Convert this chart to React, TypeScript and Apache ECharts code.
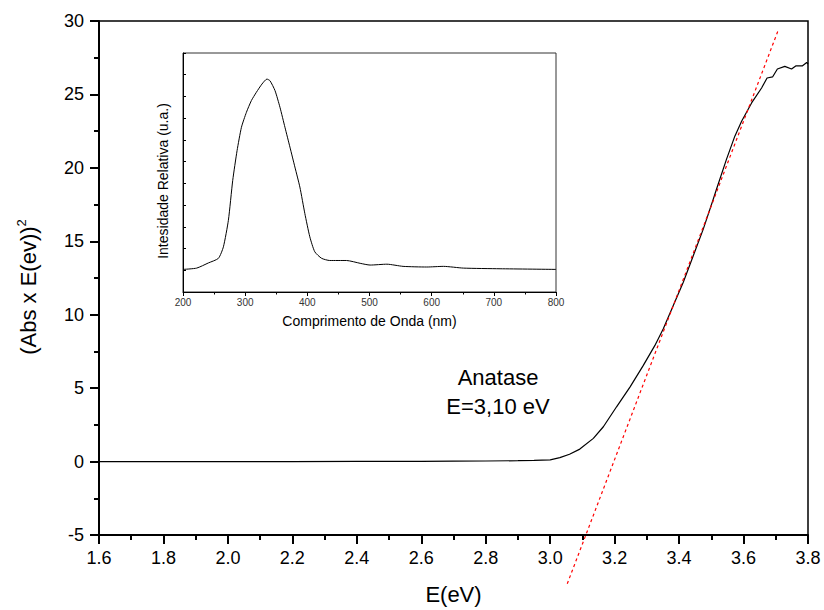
import React, { useEffect, useRef } from "react";
import * as echarts from "echarts";

// Main curve: (Abs x E)^2 vs E (eV)
const energyEv = [1.6, 1.8, 2.0, 2.2, 2.4, 2.6, 2.7, 2.8, 2.9, 2.95, 3.0, 3.03, 3.06, 3.092, 3.134, 3.165, 3.206, 3.248, 3.289, 3.325, 3.351, 3.382, 3.413, 3.444, 3.475, 3.506, 3.516, 3.547, 3.573, 3.594, 3.625, 3.656, 3.673, 3.69, 3.705, 3.728, 3.749, 3.763, 3.783, 3.796, 3.8];
const absE2 = [0, 0, 0, 0, 0.01, 0.02, 0.03, 0.04, 0.06, 0.08, 0.12, 0.27, 0.5, 0.85, 1.58, 2.37, 3.73, 5.09, 6.55, 7.91, 9.04, 10.62, 12.21, 14.02, 15.83, 17.86, 18.54, 20.58, 22.16, 23.17, 24.42, 25.44, 26.12, 26.19, 26.73, 26.91, 26.73, 26.95, 26.95, 27.18, 27.07];

// Linear fit (tangent) line
const fitEv = [3.053, 3.706];
const fitVal = [-8.32, 29.28];

// Inset: relative intensity vs wavelength (nm)
const waveNm = [200, 222, 241, 257, 265, 273, 280, 287, 294, 302, 310, 318, 327, 335, 340, 348, 356, 364, 372, 380, 388, 396, 404, 412, 423, 436, 463, 485, 501, 528, 554, 592, 619, 651, 710, 800];
const intensity = [1.04, 1.1, 1.34, 1.55, 2.08, 3.3, 5.14, 6.51, 7.58, 8.27, 8.81, 9.19, 9.57, 9.8, 9.72, 9.27, 8.5, 7.58, 6.67, 5.75, 4.83, 3.61, 2.54, 1.85, 1.55, 1.45, 1.45, 1.32, 1.24, 1.28, 1.18, 1.15, 1.18, 1.1, 1.07, 1.04];

const mainTicksX = { min: 1.6, max: 3.8, interval: 0.2 };
const mainTicksY = { min: -5, max: 30, interval: 5 };
const insetTicksX = { min: 200, max: 800, interval: 100 };

const FONT = "'Liberation Sans', Arial, sans-serif";

export default function App() {
  const ref = useRef<HTMLDivElement>(null);
  useEffect(() => {
    if (!ref.current) return;
    const chart = echarts.init(ref.current, undefined, { renderer: "svg" });
    const option: any = {
      animation: false,
      backgroundColor: "#fff",
      textStyle: { fontFamily: FONT },
      grid: [
        { left: 99, right: 16, top: 21, bottom: 73, show: true, borderColor: "#000", borderWidth: 1.5, backgroundColor: "transparent" },
        { left: 183, right: 268, top: 53, bottom: 318, show: true, borderColor: "#333", borderWidth: 1, backgroundColor: "transparent" },
      ],
      xAxis: [
        {
          gridIndex: 0,
          type: "value",
          ...mainTicksX,
          axisLine: { show: true, onZero: false, lineStyle: { color: "#000", width: 2 } },
          axisTick: { show: true, inside: false, length: 9, lineStyle: { color: "#000", width: 2 } },
          minorTick: { show: true, splitNumber: 2, length: 5, lineStyle: { color: "#000", width: 2 } },
          splitLine: { show: false },
          minorSplitLine: { show: false },
          axisLabel: { formatter: (v: number) => v.toFixed(1), fontSize: 18, color: "#000", margin: 14, fontFamily: FONT },
          name: "E(eV)",
          nameLocation: "middle",
          nameGap: 48,
          nameTextStyle: { fontSize: 22, color: "#000", fontFamily: FONT },
        },
        {
          gridIndex: 1,
          type: "value",
          ...insetTicksX,
          axisLine: { show: true, onZero: false, lineStyle: { color: "#000", width: 1 } },
          axisTick: { show: true, inside: false, length: 4, lineStyle: { color: "#000", width: 1 } },
          minorTick: { show: true, splitNumber: 2, length: 2.5, lineStyle: { color: "#000", width: 1 } },
          splitLine: { show: false },
          axisLabel: { fontSize: 10, color: "#333", margin: 5, fontFamily: FONT },
          name: "Comprimento de Onda (nm)",
          nameLocation: "middle",
          nameGap: 22,
          nameTextStyle: { fontSize: 14, color: "#000", fontFamily: FONT },
        },
      ],
      yAxis: [
        {
          gridIndex: 0,
          type: "value",
          ...mainTicksY,
          axisLine: { show: true, onZero: false, lineStyle: { color: "#000", width: 2 } },
          axisTick: { show: true, inside: false, length: 9, lineStyle: { color: "#000", width: 2 } },
          minorTick: { show: true, splitNumber: 2, length: 5, lineStyle: { color: "#000", width: 2 } },
          splitLine: { show: false },
          axisLabel: { fontSize: 18, color: "#000", margin: 15, fontFamily: FONT },
        },
        {
          gridIndex: 1,
          type: "value",
          min: 0,
          max: 11,
          interval: 1,
          axisLine: { show: true, onZero: false, lineStyle: { color: "#000", width: 1 } },
          axisTick: { show: true, inside: true, length: 3, lineStyle: { color: "#000", width: 1 } },
          splitLine: { show: false },
          axisLabel: { show: false },
        },
      ],
      series: [
        {
          type: "line",
          xAxisIndex: 0,
          yAxisIndex: 0,
          data: energyEv.map((e, i) => [e, absE2[i]]),
          showSymbol: false,
          lineStyle: { color: "#000", width: 1.2 },
        },
        {
          type: "line",
          xAxisIndex: 0,
          yAxisIndex: 0,
          data: fitEv.map((e, i) => [e, fitVal[i]]),
          showSymbol: false,
          clip: false,
          lineStyle: { color: "#ff0000", width: 1.2, type: [3, 3] },
        },
        {
          type: "line",
          xAxisIndex: 1,
          yAxisIndex: 1,
          data: waveNm.map((w, i) => [w, intensity[i]]),
          showSymbol: false,
          smooth: 0.2,
          lineStyle: { color: "#000", width: 1 },
        },
      ],
      graphic: [
        {
          type: "text",
          x: 28,
          y: 287,
          rotation: Math.PI / 2,
          style: {
            text: "{a|(Abs x E(ev))}{sup|2}",
            textAlign: "center",
            align: "center",
            textVerticalAlign: "middle",
            verticalAlign: "middle",
            rich: {
              a: { fontSize: 22, fontFamily: FONT, fill: "#000", lineHeight: 26 },
              sup: { fontSize: 13, fontFamily: FONT, fill: "#000", lineHeight: 13, verticalAlign: "top" },
            },
          },
        },
        {
          type: "text",
          x: 163,
          y: 181,
          rotation: Math.PI / 2,
          style: {
            text: "Intesidade Relativa (u.a.)",
            font: `14px ${FONT}`,
            fill: "#000",
            textAlign: "center",
            align: "center",
            textVerticalAlign: "middle",
            verticalAlign: "middle",
          },
        },
        {
          type: "text",
          x: 498,
          y: 377,
          style: {
            text: "Anatase",
            font: `22px ${FONT}`,
            fill: "#000",
            textAlign: "center",
            align: "center",
            textVerticalAlign: "middle",
            verticalAlign: "middle",
          },
        },
        {
          type: "text",
          x: 498,
          y: 406,
          style: {
            text: "E=3,10 eV",
            font: `22px ${FONT}`,
            fill: "#000",
            textAlign: "center",
            align: "center",
            textVerticalAlign: "middle",
            verticalAlign: "middle",
          },
        },
      ],
    };
    chart.setOption(option);
    return () => chart.dispose();
  }, []);
  return <div ref={ref} style={{ width: 824, height: 610, position: "absolute", left: 0, top: 0 }} />;
}
